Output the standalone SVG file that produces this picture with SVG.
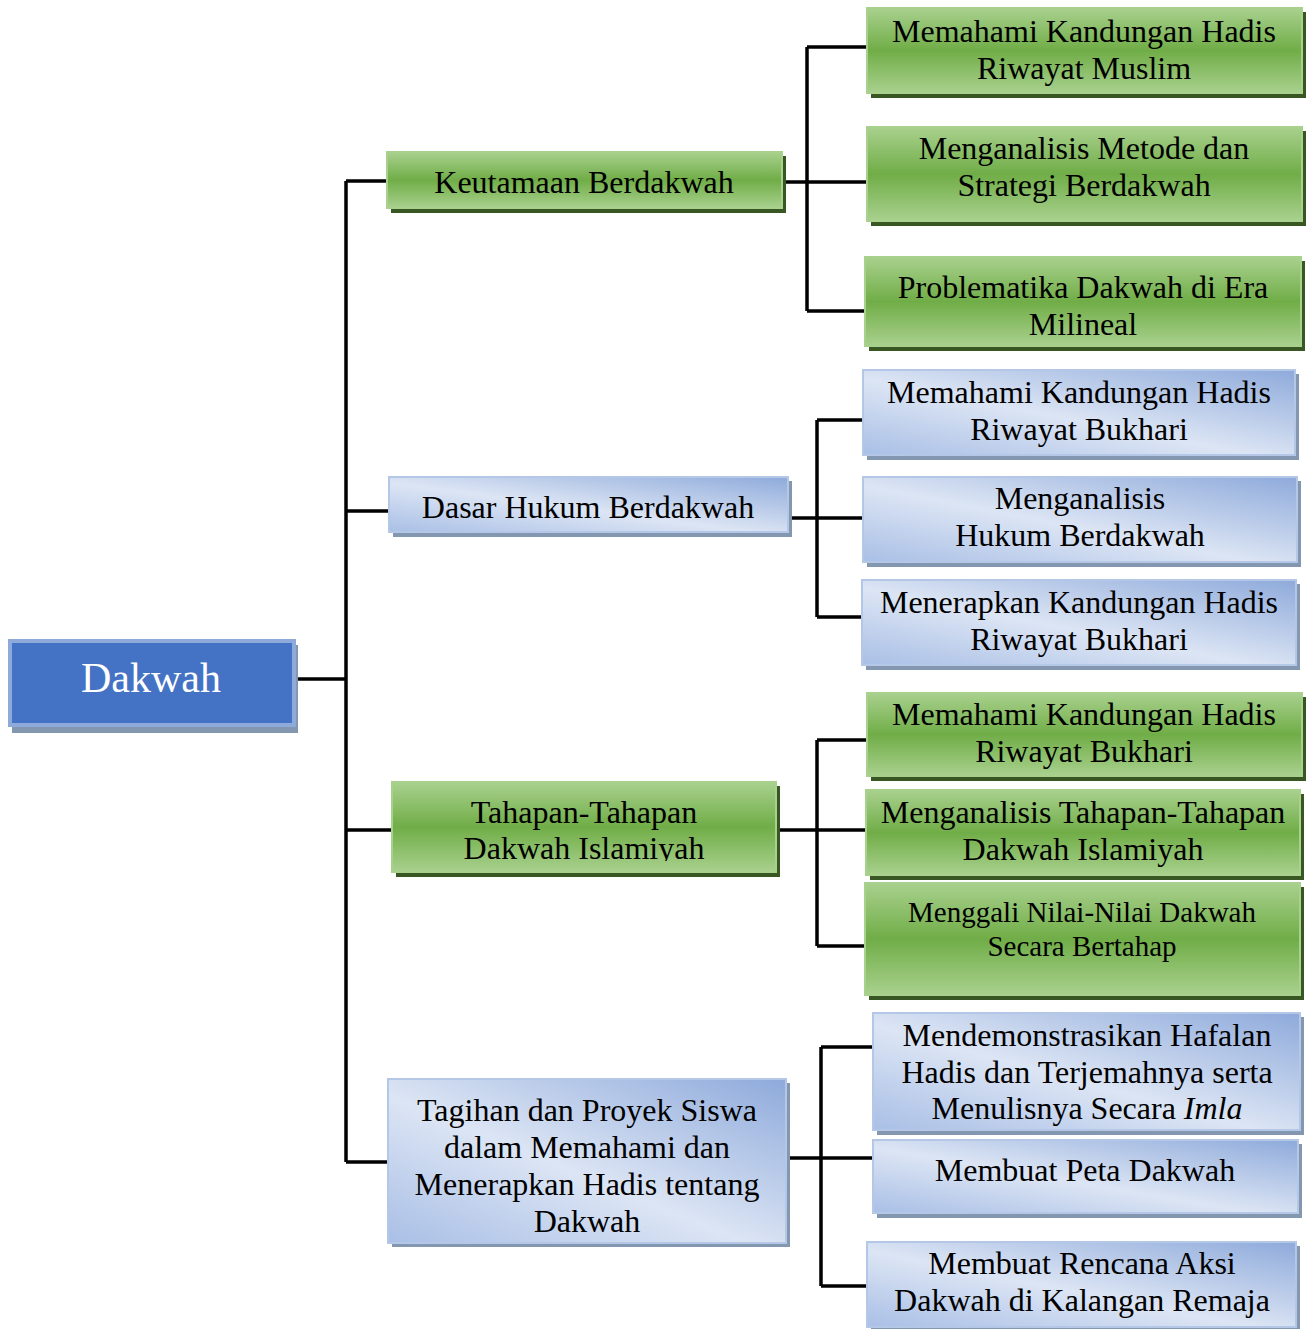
<svg xmlns="http://www.w3.org/2000/svg" width="1308" height="1329" viewBox="0 0 1308 1329">
  <defs>
    <linearGradient id="gGreen" x1="0" y1="0" x2="0" y2="1">
      <stop offset="0" stop-color="#a9d18e"/>
      <stop offset="0.5" stop-color="#70ad47"/>
      <stop offset="1" stop-color="#a9d18e"/>
    </linearGradient>
    <linearGradient id="gBlue" x1="0" y1="1" x2="1" y2="0">
      <stop offset="0" stop-color="#a9bfe6"/>
      <stop offset="0.45" stop-color="#dce5f4"/>
      <stop offset="1" stop-color="#8eaadb"/>
    </linearGradient>
    <clipPath id="clipIslamiyah">
      <rect x="392" y="782" width="384" height="79"/>
    </clipPath>
  </defs>
  <style>
    text { font-family: "Liberation Serif", "Times New Roman", serif; font-size: 32px; fill: #000; text-anchor: middle; }
    .green { fill: url(#gGreen); stroke: #a9d18e; stroke-width: 2; }
    .greenShadow { fill: #385723; }
    .blue { fill: url(#gBlue); stroke: #b4c7e7; stroke-width: 2; }
    .blueShadow { fill: #8497b0; }
    .link { fill: none; stroke: #000; stroke-width: 3.5; }
  </style>
  <rect width="1308" height="1329" fill="#ffffff"/>

  <!-- connectors -->
  <g id="connectors" class="link">
    <path d="M294 679 H346"/>
    <path d="M346 181 V1162"/>
    <path d="M346 181 H388 M346 511 H390 M346 830 H393 M346 1162 H389"/>
    <path d="M783 182 H868 M807 47 V311 M807 47 H869 M807 311 H866"/>
    <path d="M788 518 H864 M817 420 V617 M817 420 H864 M817 617 H863"/>
    <path d="M777 830 H867 M817 740 V946 M817 740 H868 M817 946 H866"/>
    <path d="M787 1158 H874 M821 1047 V1286 M821 1047 H874 M821 1286 H868"/>
  </g>

  <!-- root -->
  <g id="node-dakwah">
    <rect x="12" y="645" width="286" height="88" fill="#8497b0"/>
    <rect x="10" y="641" width="284" height="84" fill="#4472c4" stroke="#8eaadb" stroke-width="4"/>
    <text x="151" y="692" style="font-size:42px; fill:#ffffff">Dakwah</text>
  </g>

  <!-- level 1 -->
  <g id="node-keutamaan">
    <rect class="greenShadow" x="391" y="156" width="395" height="57"/>
    <rect class="green" x="387" y="152" width="395" height="56"/>
    <text x="584" y="193">Keutamaan Berdakwah</text>
  </g>
  <g id="node-dasar-hukum">
    <rect class="blueShadow" x="393" y="481" width="399" height="56"/>
    <rect class="blue" x="389" y="477" width="399" height="55"/>
    <text x="588" y="518">Dasar Hukum Berdakwah</text>
  </g>
  <g id="node-tahapan">
    <rect class="greenShadow" x="396" y="786" width="384" height="91"/>
    <rect class="green" x="392" y="782" width="384" height="90"/>
    <text x="584" y="823">Tahapan-Tahapan</text>
    <text x="584" y="859" clip-path="url(#clipIslamiyah)">Dakwah Islamiyah</text>
  </g>
  <g id="node-tagihan">
    <rect class="blueShadow" x="392" y="1083" width="398" height="164"/>
    <rect class="blue" x="388" y="1079" width="398" height="164"/>
    <text x="587" y="1121">Tagihan dan Proyek Siswa</text>
    <text x="587" y="1158">dalam Memahami dan</text>
    <text x="587" y="1195">Menerapkan Hadis tentang</text>
    <text x="587" y="1232">Dakwah</text>
  </g>

  <!-- level 2: Keutamaan Berdakwah -->
  <g id="node-muslim">
    <rect class="greenShadow" x="871" y="12" width="435" height="86"/>
    <rect class="green" x="867" y="8" width="435" height="85"/>
    <text x="1084" y="42">Memahami Kandungan Hadis</text>
    <text x="1084" y="79">Riwayat Muslim</text>
  </g>
  <g id="node-metode">
    <rect class="greenShadow" x="871" y="131" width="435" height="95"/>
    <rect class="green" x="867" y="127" width="435" height="94"/>
    <text x="1084" y="159">Menganalisis Metode dan</text>
    <text x="1084" y="196">Strategi Berdakwah</text>
  </g>
  <g id="node-problematika">
    <rect class="greenShadow" x="869" y="261" width="436" height="90"/>
    <rect class="green" x="865" y="257" width="436" height="89"/>
    <text x="1083" y="298">Problematika Dakwah di Era</text>
    <text x="1083" y="335">Milineal</text>
  </g>

  <!-- level 2: Dasar Hukum Berdakwah -->
  <g id="node-bukhari-1">
    <rect class="blueShadow" x="867" y="374" width="432" height="86"/>
    <rect class="blue" x="863" y="370" width="432" height="85"/>
    <text x="1079" y="403">Memahami Kandungan Hadis</text>
    <text x="1079" y="440">Riwayat Bukhari</text>
  </g>
  <g id="node-hukum">
    <rect class="blueShadow" x="867" y="481" width="434" height="86"/>
    <rect class="blue" x="863" y="477" width="434" height="85"/>
    <text x="1080" y="509">Menganalisis</text>
    <text x="1080" y="546">Hukum Berdakwah</text>
  </g>
  <g id="node-menerapkan">
    <rect class="blueShadow" x="866" y="584" width="434" height="86"/>
    <rect class="blue" x="862" y="580" width="434" height="85"/>
    <text x="1079" y="613">Menerapkan Kandungan Hadis</text>
    <text x="1079" y="650">Riwayat Bukhari</text>
  </g>

  <!-- level 2: Tahapan-Tahapan Dakwah Islamiyah -->
  <g id="node-bukhari-2">
    <rect class="greenShadow" x="871" y="697" width="435" height="84"/>
    <rect class="green" x="867" y="693" width="435" height="83"/>
    <text x="1084" y="725">Memahami Kandungan Hadis</text>
    <text x="1084" y="762">Riwayat Bukhari</text>
  </g>
  <g id="node-tahapan-islamiyah">
    <rect class="greenShadow" x="870" y="794" width="434" height="86"/>
    <rect class="green" x="866" y="790" width="434" height="85"/>
    <text x="1083" y="823">Menganalisis Tahapan-Tahapan</text>
    <text x="1083" y="860">Dakwah Islamiyah</text>
  </g>
  <g id="node-menggali">
    <rect class="greenShadow" x="869" y="887" width="435" height="113"/>
    <rect class="green" x="865" y="883" width="435" height="112"/>
    <text x="1082" y="922" style="font-size:29px">Menggali Nilai-Nilai Dakwah</text>
    <text x="1082" y="956" style="font-size:29px">Secara Bertahap</text>
  </g>

  <!-- level 2: Tagihan dan Proyek Siswa -->
  <g id="node-hafalan">
    <rect class="blueShadow" x="877" y="1017" width="427" height="118"/>
    <rect class="blue" x="873" y="1013" width="427" height="117"/>
    <text x="1087" y="1046">Mendemonstrasikan Hafalan</text>
    <text x="1087" y="1083">Hadis dan Terjemahnya serta</text>
    <text x="1087" y="1119">Menulisnya Secara <tspan font-style="italic">Imla</tspan></text>
  </g>
  <g id="node-peta">
    <rect class="blueShadow" x="877" y="1144" width="425" height="74"/>
    <rect class="blue" x="873" y="1140" width="425" height="73"/>
    <text x="1085" y="1181">Membuat Peta Dakwah</text>
  </g>
  <g id="node-rencana">
    <rect class="blueShadow" x="871" y="1246" width="429" height="86"/>
    <rect class="blue" x="867" y="1242" width="429" height="85"/>
    <text x="1082" y="1274">Membuat Rencana Aksi</text>
    <text x="1082" y="1311">Dakwah di Kalangan Remaja</text>
  </g>
</svg>
